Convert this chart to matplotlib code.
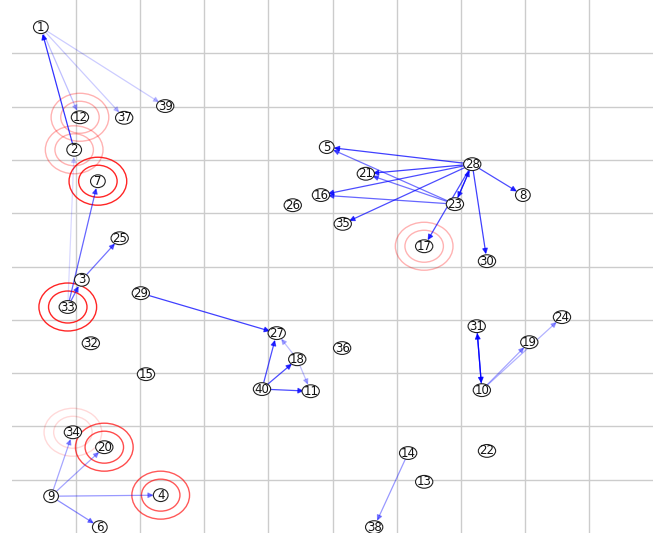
import matplotlib
matplotlib.use("Agg")
import matplotlib.pyplot as plt
from matplotlib.patches import Circle, Ellipse, FancyArrowPatch

# node positions (data units, grid 0..10)
node_ids = [1, 12, 37, 39, 2, 7, 25, 3, 33, 29, 32, 15, 34, 20, 9, 4, 6,
            5, 21, 28, 8, 16, 26, 23, 35, 17, 30, 27, 18, 36, 40, 11, 14,
            38, 13, 31, 19, 24, 10, 22]
node_x = [0.45, 1.06, 1.75, 2.39, 0.97, 1.34, 1.68, 1.09, 0.87, 2.01, 1.23,
          2.09, 0.95, 1.44, 0.61, 2.32, 1.37, 4.91, 5.52, 7.18, 7.97, 4.82,
          4.38, 6.91, 5.16, 6.43, 7.41, 4.13, 4.45, 5.15, 3.90, 4.66, 6.18,
          5.65, 6.43, 7.25, 8.07, 8.58, 7.33, 7.41]
node_y = [9.49, 7.80, 7.79, 8.01, 7.19, 6.60, 5.53, 4.75, 4.24, 4.50, 3.56,
          2.98, 1.89, 1.61, 0.69, 0.71, 0.11, 7.24, 6.74, 6.92, 6.34, 6.34,
          6.15, 6.17, 5.80, 5.38, 5.10, 3.75, 3.26, 3.47, 2.70, 2.66, 1.50,
          0.11, 0.96, 3.88, 3.58, 4.05, 2.68, 1.54]

# directed edges and their opacity
edge_src = [2, 1, 1, 1, 33, 33, 33, 3, 29, 9, 9, 9, 9,
            28, 28, 28, 28, 28, 28, 28, 28, 23, 23, 23, 23,
            40, 40, 40, 18, 18, 14, 10, 31, 10, 10]
edge_dst = [1, 12, 37, 39, 2, 7, 3, 25, 27, 34, 20, 4, 6,
            5, 21, 16, 35, 8, 30, 23, 17, 5, 21, 16, 28,
            27, 18, 11, 27, 11, 38, 31, 10, 19, 24]
edge_alpha = [0.8, 0.25, 0.2, 0.2, 0.15, 0.6, 0.6, 0.55, 0.75, 0.35, 0.35, 0.4, 0.45,
              0.75, 0.75, 0.7, 0.7, 0.7, 0.75, 0.7, 0.7, 0.55, 0.55, 0.6, 0.7,
              0.7, 0.7, 0.7, 0.25, 0.25, 0.4, 0.85, 0.85, 0.35, 0.3]

# highlighted nodes (two red rings)
ring_nodes = [7, 33, 20, 4, 12, 2, 17, 34]
ring_alpha = [0.85, 0.85, 0.7, 0.65, 0.3, 0.3, 0.3, 0.15]

pos = {n: (x, y) for n, x, y in zip(node_ids, node_x, node_y)}

fig = plt.figure(figsize=(6.65, 5.37), dpi=100)
ax = fig.add_axes([12 / 665, 4 / 537, 641 / 665, 533 / 537])
ax.set_xlim(0, 10)
ax.set_ylim(0, 10)
ax.set_xticks(range(1, 10))
ax.set_yticks(range(1, 10))
ax.tick_params(length=0, labelbottom=False, labelleft=False)
ax.grid(True, color="#cccccc", linewidth=1)
ax.set_axisbelow(True)
for s in ax.spines.values():
    s.set_visible(False)

for n, a in zip(ring_nodes, ring_alpha):
    for r in (0.3, 0.45):
        ax.add_patch(Circle(pos[n], r, fill=False, edgecolor="red",
                            linewidth=1.0, alpha=a, zorder=2))

for s, d, a in zip(edge_src, edge_dst, edge_alpha):
    arr = FancyArrowPatch(pos[s], pos[d], arrowstyle="-|>", mutation_scale=8,
                          color="blue", alpha=a, linewidth=0.9,
                          shrinkA=4.5, shrinkB=5, zorder=3)
    ax.add_patch(arr)

for n in node_ids:
    x, y = pos[n]
    w = 0.27 if n >= 10 else 0.23
    ax.add_patch(Ellipse((x, y), w, 0.24, facecolor="white",
                         edgecolor="#222222", linewidth=0.8, zorder=4))
    ax.text(x, y, str(n), ha="center", va="center", fontsize=8.5,
            color="#111111", zorder=5)

fig.savefig("out.png", dpi=100)
